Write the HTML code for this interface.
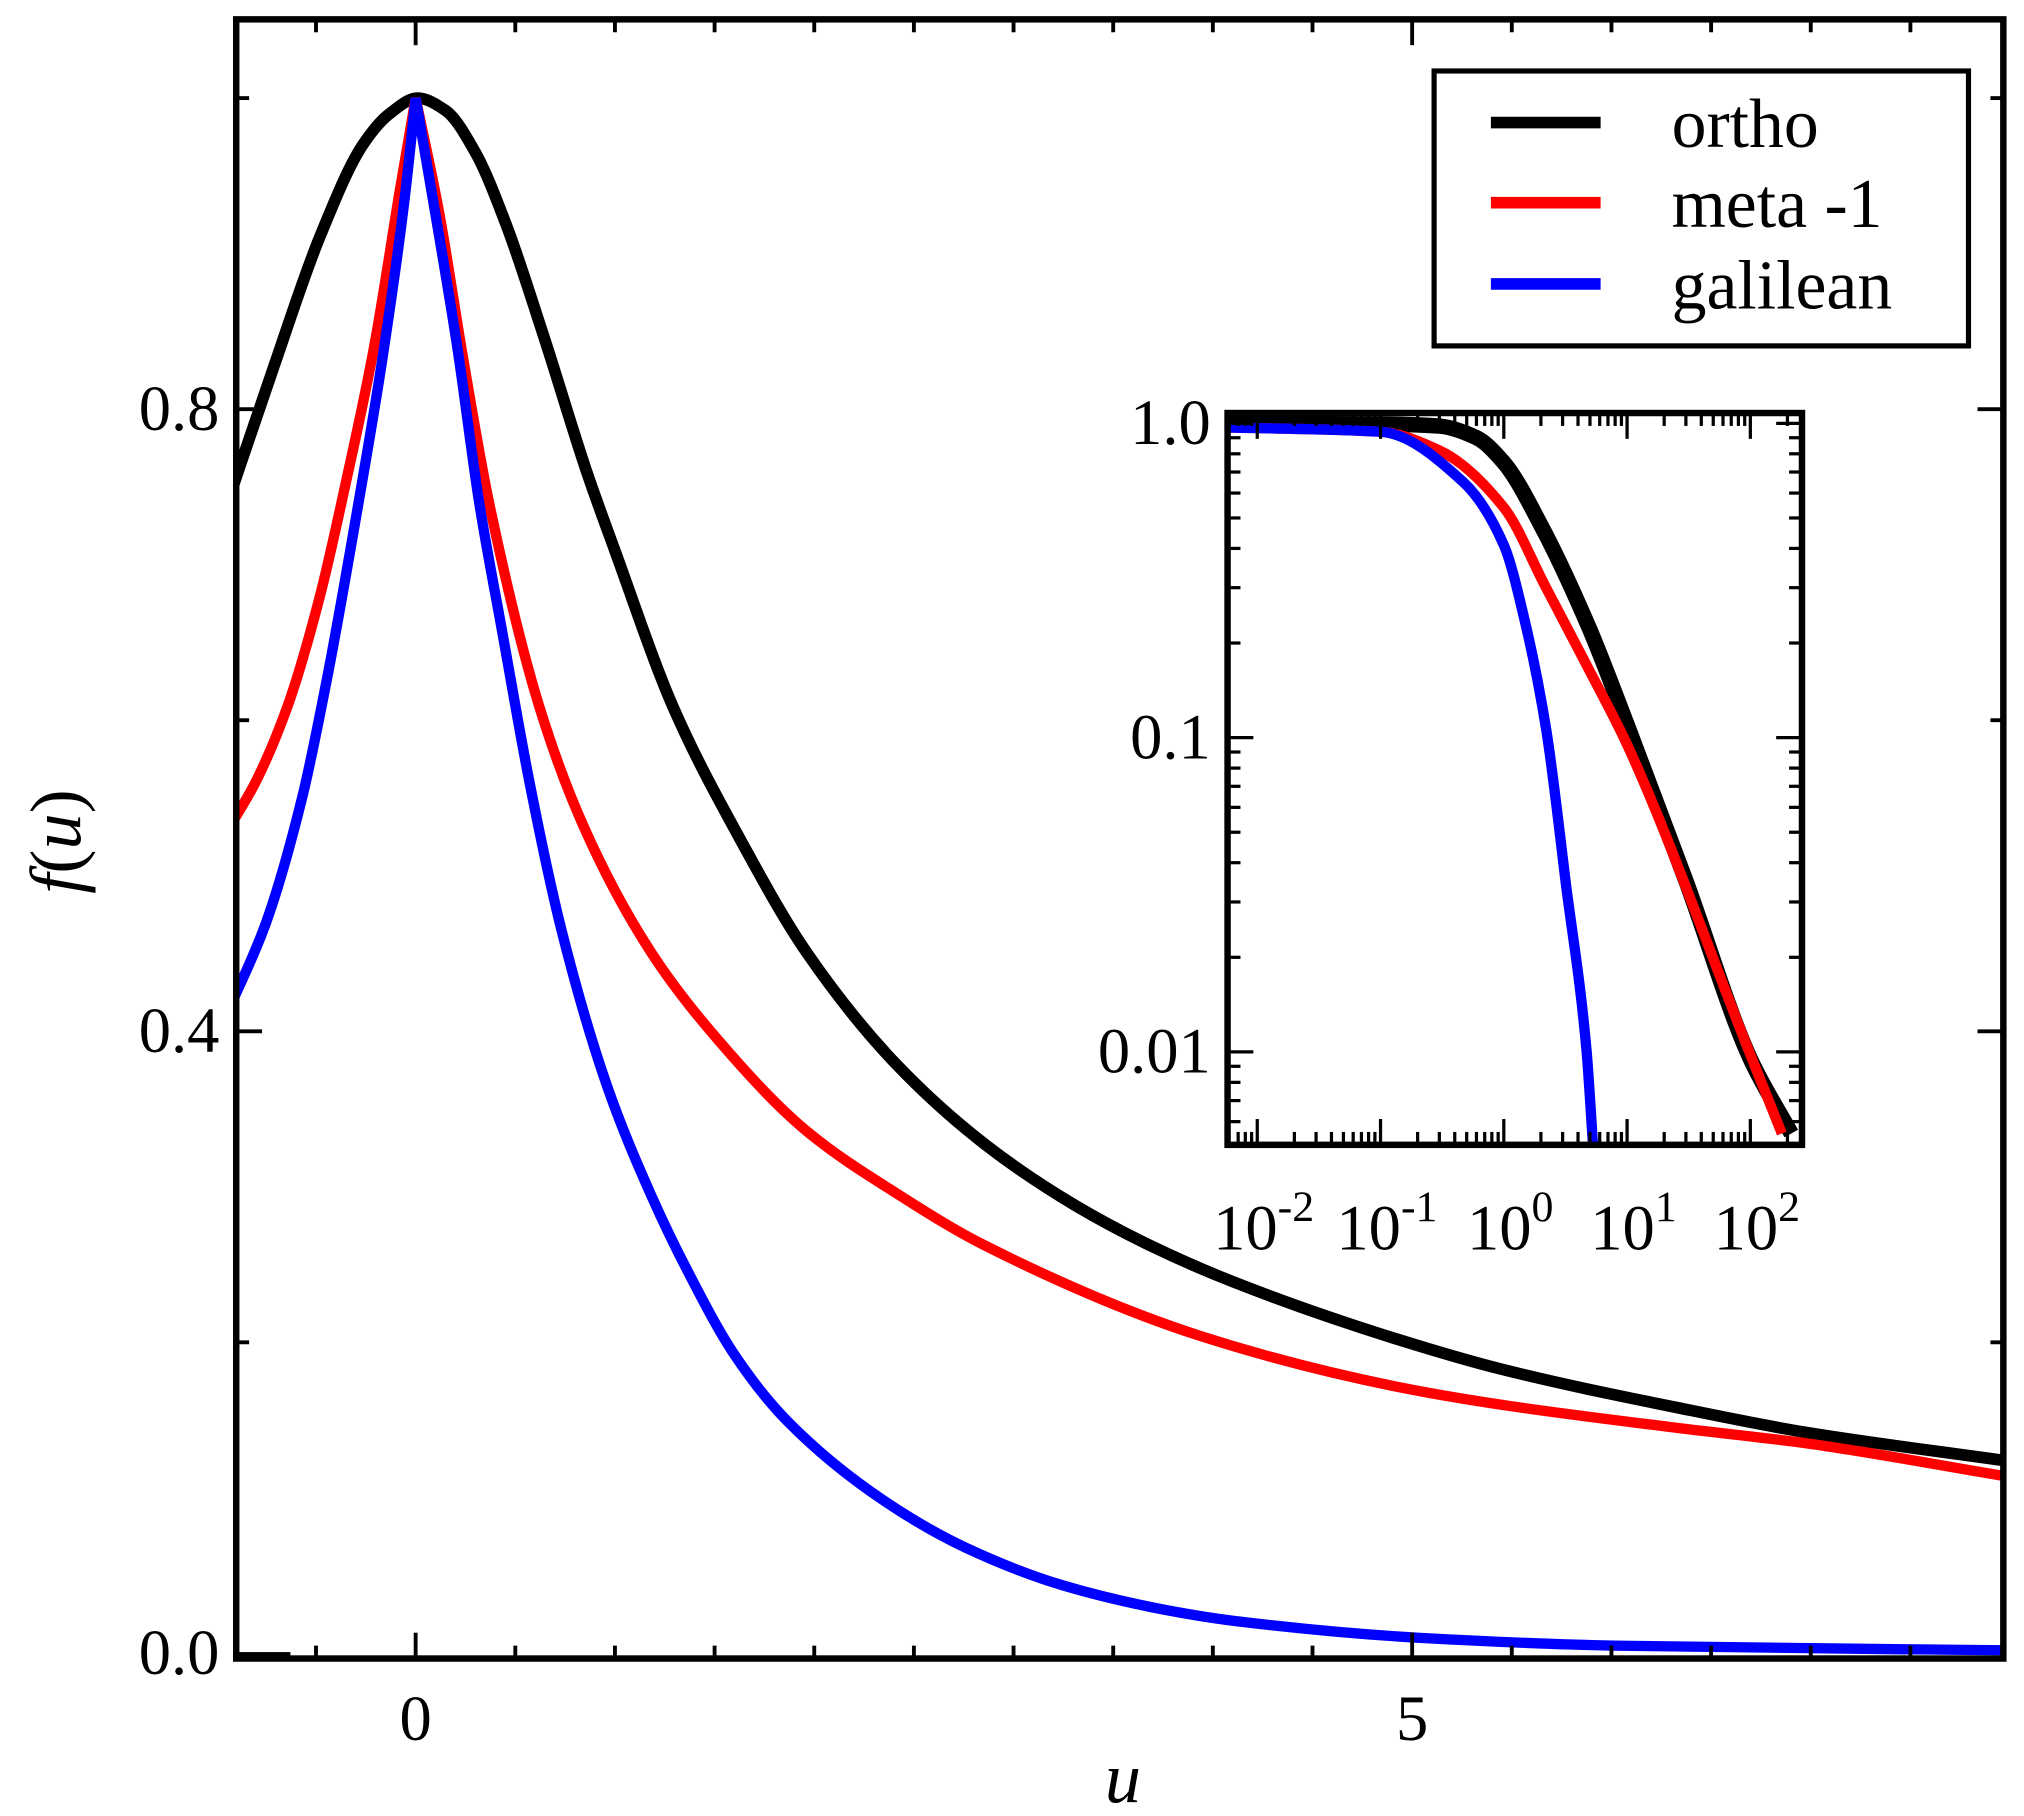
<!DOCTYPE html>
<html><head><meta charset="utf-8"><style>
html,body{margin:0;padding:0;background:#fff;}
svg{display:block;}
text{font-family:"Liberation Serif",serif;fill:#000;}
</style></head>
<body>
<svg id="chart" width="2024" height="1816" viewBox="0 0 1568 1407" preserveAspectRatio="none" xmlns="http://www.w3.org/2000/svg">
<rect width="1568" height="1407" fill="#fff"/>
<g id="main"></g>
<g id="inset"></g>
<g id="legend">
  <rect x="1111" y="55" width="414" height="213" fill="#fff" stroke="#000" stroke-width="4"/>
  <line x1="1155" y1="95" x2="1240" y2="95" stroke="#000" stroke-width="9"/>
  <text x="1295" y="114" font-size="54">ortho</text>
  <line x1="1155" y1="157" x2="1240" y2="157" stroke="#f00" stroke-width="9"/>
  <text x="1295" y="176" font-size="54">meta -1</text>
  <line x1="1155" y1="220" x2="1240" y2="220" stroke="#00f" stroke-width="9"/>
  <text x="1295" y="239" font-size="54">galilean</text>
</g>
</svg>
<script>
// main chart data
const uOrtho = [-0.93,-0.71,-0.48,-0.26,-0.13,0.01,0.15,0.3,0.45,0.64,0.86,1.0,1.29,1.63,1.96,2.41,2.86,3.31,3.69,4.10,4.90,5.44,6.33,6.98,7.97];
const fOrtho = [0.745,0.828,0.911,0.971,0.99,1.0,0.992,0.965,0.92,0.848,0.759,0.709,0.609,0.523,0.451,0.379,0.327,0.288,0.262,0.239,0.203,0.183,0.158,0.142,0.124];
const uMeta = [-0.94,-0.80,-0.64,-0.48,-0.35,-0.21,-0.08,0,0.12,0.23,0.37,0.62,0.845,1.18,1.52,1.96,2.41,2.86,3.94,4.90,5.44,6.33,6.98,7.97];
const fMeta = [0.530,0.561,0.61,0.68,0.753,0.839,0.94,1.0,0.925,0.839,0.739,0.609,0.531,0.451,0.394,0.336,0.296,0.262,0.204,0.172,0.160,0.145,0.135,0.114];
const uGal = [-0.94,-0.75,-0.57,-0.44,-0.30,-0.17,-0.06,0,0.10,0.21,0.32,0.44,0.57,0.73,0.96,1.18,1.36,1.6,1.86,2.34,2.76,3.24,3.72,4.1,5.04,6.01,7.97];
const fGal = [0.413,0.47,0.55,0.63,0.73,0.83,0.93,1.0,0.925,0.839,0.739,0.653,0.561,0.466,0.365,0.295,0.247,0.192,0.150,0.099,0.068,0.044,0.029,0.021,0.010,0.005,0.002];
const xTicksMain = [0,5];
const yTicksMain = [0,0.4,0.8];
const yTickLabelsMain = ["0.0","0.4","0.8"];
// inset data (log-log)
const xOrthoIn = [0.006,0.1,0.3,0.6,1,2.14,5,10,30,100,215];
const fOrthoIn = [1.0,0.995,0.98,0.9,0.75,0.45,0.22,0.11,0.035,0.0095,0.0055];
const xMetaIn = [0.006,0.1,0.3,1,2.2,4.7,10,100,180];
const fMetaIn = [0.97,0.94,0.82,0.54,0.30,0.17,0.095,0.0098,0.0055];
const xGalIn = [0.006,0.1,0.47,1,1.5,2.2,3.2,4.7,5.3];
const fGalIn = [0.97,0.94,0.65,0.41,0.23,0.107,0.034,0.01,0.005];
const xTicksIn = [-2,-1,0,1,2];
const yTicksIn = [1,0.1,0.01];
const yTickLabelsIn = ["1.0","0.1","0.01"];

const NS="http://www.w3.org/2000/svg";
function mk(tag,attrs,parent){const e=document.createElementNS(NS,tag);for(const k in attrs)e.setAttribute(k,attrs[k]);parent.appendChild(e);return e;}
// monotone cubic (Fritsch-Carlson) path through pixel points with increasing x
function smooth(pts,move){
  const n=pts.length;
  let d=(move===false?'L':'M')+pts[0][0].toFixed(1)+' '+pts[0][1].toFixed(1);
  if(n<2) return d;
  const dx=[],s=[];
  for(let i=0;i<n-1;i++){dx.push(pts[i+1][0]-pts[i][0]);s.push((pts[i+1][1]-pts[i][1])/dx[i]);}
  const m=[s[0]];
  for(let i=1;i<n-1;i++){ if(s[i-1]*s[i]<=0) m.push(0); else m.push(3*(dx[i-1]+dx[i])/((2*dx[i]+dx[i-1])/s[i-1]+(dx[i]+2*dx[i-1])/s[i])); }
  m.push(s[n-2]);
  for(let i=0;i<n-1;i++){
    const h=dx[i]/3;
    d+=' C'+(pts[i][0]+h).toFixed(1)+' '+(pts[i][1]+m[i]*h).toFixed(1)+' '+(pts[i+1][0]-h).toFixed(1)+' '+(pts[i+1][1]-m[i+1]*h).toFixed(1)+' '+pts[i+1][0].toFixed(1)+' '+pts[i+1][1].toFixed(1);
  }
  return d;
}

// main axes
const L=183,R=1552,T=15,B=1285;
const xS=u=>322+u*154.4;
const yS=f=>1281-f*1205;
const main=document.getElementById('main');
const defs=mk('defs',{},main);
const cp=mk('clipPath',{id:'mclip'},defs);
mk('rect',{x:L,y:T,width:R-L,height:B-T},cp);
function series(us,fs,color,name,w,cusp){
  const pts=us.map((u,i)=>[xS(u),yS(fs[i])]);
  let d;
  if(cusp){const k=us.indexOf(0);d=smooth(pts.slice(0,k+1))+' '+smooth(pts.slice(k),false);}
  else d=smooth(pts);
  const p=mk('path',{d:d,fill:'none',stroke:color,'stroke-width':w,'stroke-linejoin':'miter','clip-path':'url(#mclip)'},main);
  
  
}
series(uOrtho,fOrtho,'#000','ortho-line',9,false);
series(uMeta,fMeta,'#f00','meta-line',8,true);
series(uGal,fGal,'#00f','galilean-line',8,true);
// ticks
for(let u=-0.5;u<=8;u+=0.5){
  const x=xS(u); if(x<L+2||x>R-2) continue;
  const major=Math.abs(u-Math.round(u/5)*5)<1e-6;
  const len=major?20:10;
  mk('line',{x1:x,y1:B,x2:x,y2:B-len,stroke:'#000','stroke-width':3},main);
  mk('line',{x1:x,y1:T,x2:x,y2:T+len,stroke:'#000','stroke-width':3},main);
}
xTicksMain.forEach(u=>{
  const t=mk('text',{x:xS(u),y:1348,'font-size':50,'text-anchor':'middle'},main);
  t.textContent=String(u);
  
  
});
for(let f=0.2;f<=1.01;f+=0.2){
  const y=yS(f);const major=Math.abs(f-0.4)<1e-6||Math.abs(f-0.8)<1e-6;const len=major?20:10;
  mk('line',{x1:L,y1:y,x2:L+len,y2:y,stroke:'#000','stroke-width':3},main);
  mk('line',{x1:R,y1:y,x2:R-len,y2:y,stroke:'#000','stroke-width':3},main);
}
mk('rect',{x:183,y:1280,width:42,height:5,fill:'#000'},main);
yTicksMain.forEach((f,i)=>{
  const t=mk('text',{x:170,y:yS(f)+16,'font-size':50,'text-anchor':'end'},main);
  t.textContent=yTickLabelsMain[i];
  
  
});
mk('rect',{x:L,y:T,width:R-L,height:B-T,fill:'none',stroke:'#000','stroke-width':5},main);
const xt=mk('text',{x:870,y:1396,'font-size':56,'font-style':'italic','text-anchor':'middle'},main);
xt.textContent='u';


const yt=mk('text',{x:0,y:0,'font-size':56,'text-anchor':'middle',transform:'translate(62,652) rotate(-90)'},main);
yt.innerHTML='<tspan font-style="italic">f</tspan>(<tspan font-style="italic">u</tspan>)';



// inset axes
const iL=951,iR=1396,iT=320,iB=887;
const ixS=x=>1165+Math.log10(x)*95.5;
const iyS=f=>328-Math.log10(f)*243.5;
const inset=document.getElementById('inset');
const cp2=mk('clipPath',{id:'iclip'},defs);
mk('rect',{x:iL,y:iT,width:iR-iL,height:iB-iT},cp2);
mk('rect',{x:iL,y:iT,width:iR-iL,height:iB-iT,fill:'#fff'},inset);
function iseries(xs,fs,color,name,w){
  const d=smooth(xs.map((x,i)=>[ixS(x),iyS(fs[i])]));
  const p=mk('path',{d:d,fill:'none',stroke:color,'stroke-width':w,'stroke-linejoin':'round','clip-path':'url(#iclip)'},inset);
  
  
}
iseries(xOrthoIn,fOrthoIn,'#000','inset-ortho-line',12);
iseries(xMetaIn,fMetaIn,'#f00','inset-meta-line',8);
iseries(xGalIn,fGalIn,'#00f','inset-galilean-line',8);
for(let d=-3;d<=2;d++){for(let m=1;m<10;m++){
  const x=ixS(m*Math.pow(10,d)); if(x<iL+2||x>iR-2) continue;
  const len=m===1?20:10;
  mk('line',{x1:x,y1:iB,x2:x,y2:iB-len,stroke:'#000','stroke-width':2.5},inset);
  mk('line',{x1:x,y1:iT,x2:x,y2:iT+len,stroke:'#000','stroke-width':2.5},inset);
}}
for(let d=-3;d<=0;d++){for(let m=1;m<10;m++){
  const y=iyS(m*Math.pow(10,d)); if(y<iT+2||y>iB-2) continue;
  const len=m===1?20:10;
  mk('line',{x1:iL,y1:y,x2:iL+len,y2:y,stroke:'#000','stroke-width':2.5},inset);
  mk('line',{x1:iR,y1:y,x2:iR-len,y2:y,stroke:'#000','stroke-width':2.5},inset);
}}
mk('rect',{x:iL,y:iT,width:iR-iL,height:iB-iT,fill:'none',stroke:'#000','stroke-width':5},inset);
xTicksIn.forEach(e=>{
  const t=mk('text',{x:ixS(Math.pow(10,e))+5,y:968,'font-size':50,'text-anchor':'middle'},inset);
  t.innerHTML='10<tspan font-size="34" dy="-22">'+e+'</tspan>';
  
  
});
yTicksIn.forEach((f,i)=>{
  const t=mk('text',{x:938,y:iyS(f)+16,'font-size':50,'text-anchor':'end'},inset);
  t.textContent=yTickLabelsIn[i];
  
  
});
</script>
</body></html>
